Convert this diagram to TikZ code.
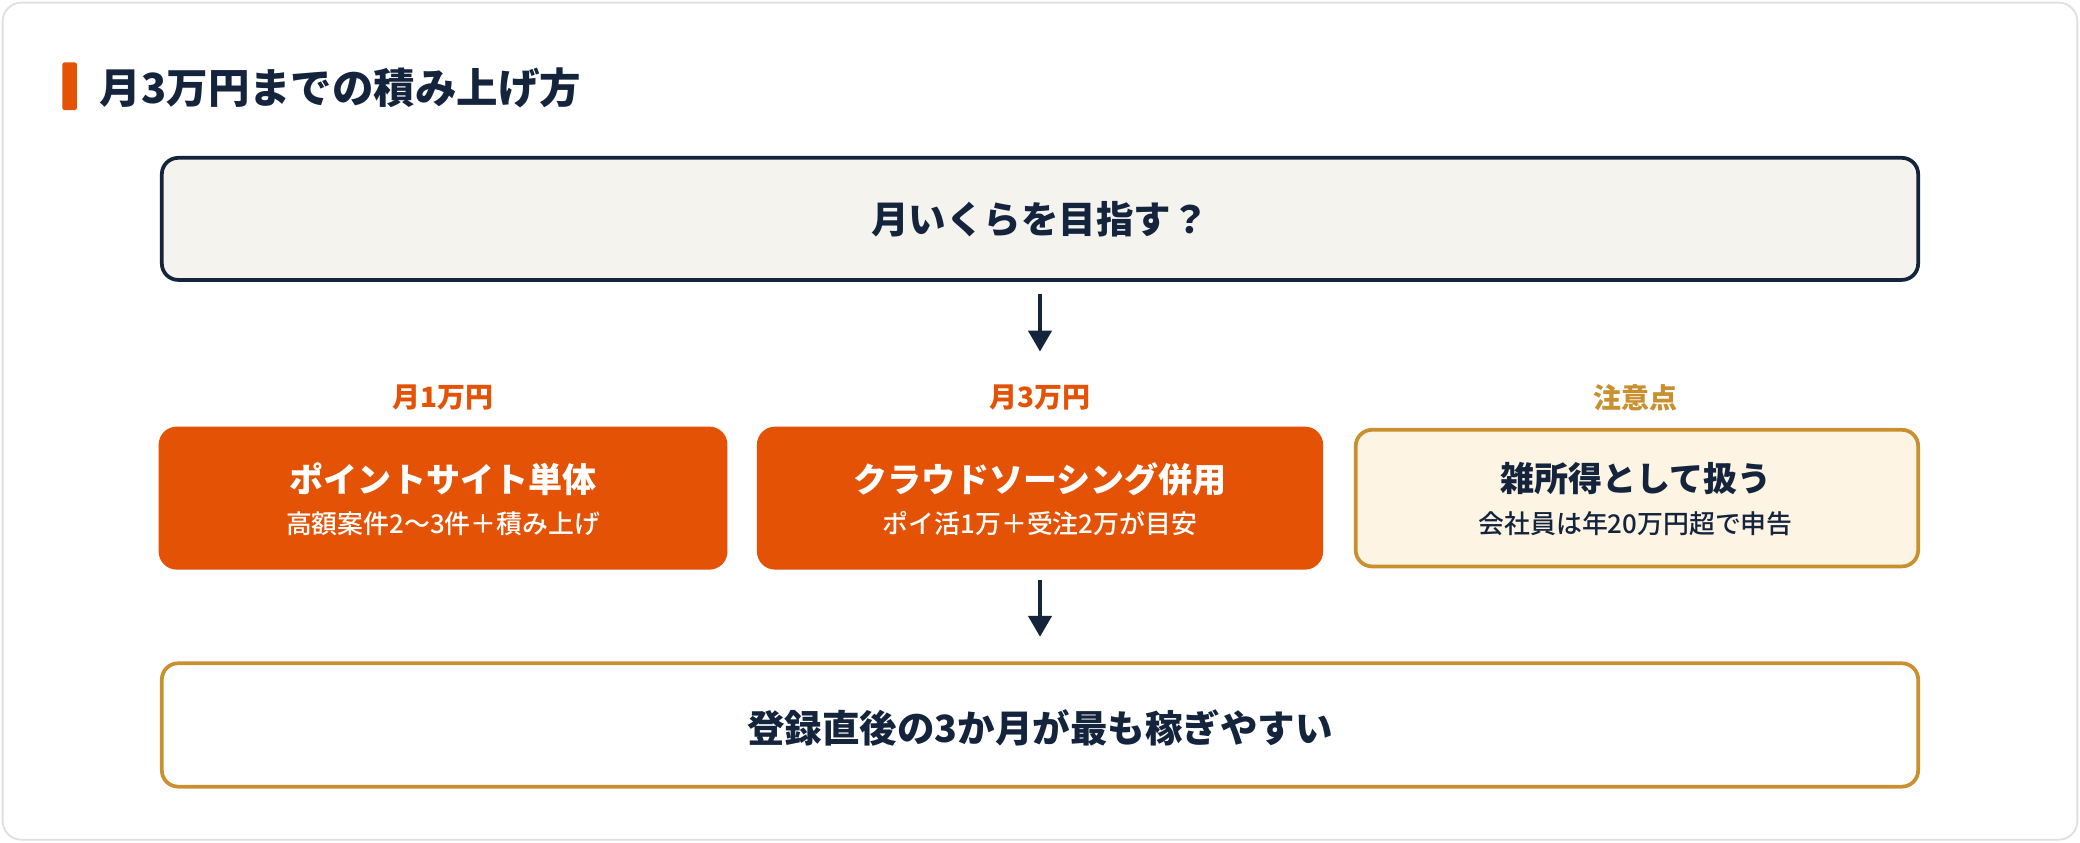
\documentclass[tikz,border=0pt]{standalone}
\usepackage{fontspec}
\setmainfont{Noto Sans CJK JP}
\newfontfamily\jpm{Noto Sans CJK JP Medium}
\usetikzlibrary{arrows.meta}
\definecolor{navy}{HTML}{14243D}
\definecolor{org}{HTML}{E35205}
\definecolor{gold}{HTML}{C8902F}
\definecolor{cream}{HTML}{FDF4E3}
\definecolor{pale}{HTML}{F5F3EE}
\begin{document}
\begin{tikzpicture}[x=0.02cm,y=-0.02cm,
 box/.style={rounded corners=7pt,line width=1.6pt},
 arr/.style={-{Triangle[length=9pt,width=10pt]},line width=1.6pt,navy},
 t1/.style={font=\bfseries\fontsize{16.1}{19}\selectfont,text=navy},
 bt/.style={font=\bfseries\fontsize{14.6}{17}\selectfont},
 st/.style={font=\jpm\fontsize{11.1}{13}\selectfont},
 lb/.style={font=\bfseries\fontsize{12}{14}\selectfont}]
\useasboundingbox (0,0) rectangle (1568,635);
\draw[rounded corners=8pt,draw=black!12,fill=white,line width=0.8pt] (2,2) rectangle (1566,633);
\fill[org,rounded corners=1pt] (47,47) rectangle (58,83);
\node[anchor=west,font=\bfseries\fontsize{17.8}{21}\selectfont,text=navy] (title) at (69,66) {月3万円までの積み上げ方};
\draw[box,draw=navy,fill=pale] (122,119) rectangle (1446,211);
\node[t1] (q) at (784,165) {月いくらを目指す？};
\draw[box,draw=org,fill=org] (121,323) rectangle (547,428);
\draw[box,draw=org,fill=org] (572,323) rectangle (996,428);
\draw[box,draw=gold,fill=cream] (1022,324) rectangle (1446,427);
\node[lb,text=org] (l1) at (334,300) {月1万円};
\node[lb,text=org] (l2) at (784,300) {月3万円};
\node[lb,text=gold] (l3) at (1233,300) {注意点};
\node[bt,text=white] (a1) at (334,361) {ポイントサイト単体};
\node[st,text=white] (a2) at (334,395) {高額案件2〜3件＋積み上げ};
\node[bt,text=white] (b1) at (784,361) {クラウドソーシング併用};
\node[st,text=white] (b2) at (784,395) {ポイ活1万＋受注2万が目安};
\node[bt,text=navy] (c1) at (1233,361) {雑所得として扱う};
\node[st,text=navy] (c2) at (1233,395) {会社員は年20万円超で申告};
\draw[box,draw=gold,fill=white] (122,500) rectangle (1446,593);
\node[t1] (z) at (784,549) {登録直後の3か月が最も稼ぎやすい};
\coordinate (p1) at (784,222); \coordinate (p2) at (784,265);
\coordinate (p3) at (784,437); \coordinate (p4) at (784,480);
\draw[arr] (p1) -- (p2);
\draw[arr] (p3) -- (p4);
\end{tikzpicture}
\end{document}
